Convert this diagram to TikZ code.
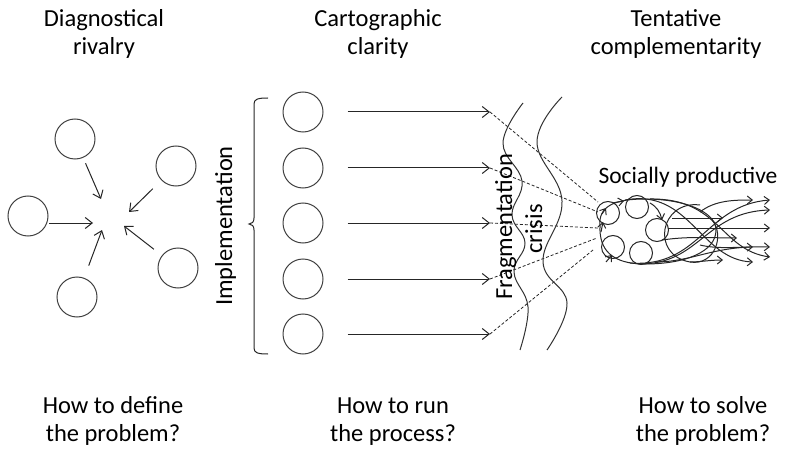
\documentclass[tikz,border=0pt]{standalone}
\usepackage{fontspec}
\setmainfont{Carlito}
\usetikzlibrary{arrows.meta}
\begin{document}
\begin{tikzpicture}[x=1pt,y=-1pt,
  ln/.style={draw=black!85,line width=1pt},
  circ/.style={circle,draw=black!75,line width=1pt,minimum size=40pt,inner sep=0pt},
  sc/.style={circle,draw=black!85,line width=1pt,minimum size=23pt,inner sep=0pt},
  arr/.style={ln,-{Straight Barb[length=7pt,width=11pt]}},
  arrS/.style={ln,-{Straight Barb[length=5pt,width=8pt]}},
  dsh/.style={draw=black!85,line width=0.8pt,densely dashed},
  wave/.style={draw=black!80,line width=1pt},
  lbl/.style={font=\fontsize{24.5}{28}\selectfont,align=center,inner sep=0pt,text=black},
]
\useasboundingbox (0,0) rectangle (797,449);

% headings (base anchor = baseline of the last line)
\node[lbl,anchor=base] (h1) at (104,55) {Diagnostical\\rivalry};
\node[lbl,anchor=base] (h2) at (378,55) {Cartographic\\clarity};
\node[lbl,anchor=base] (h3) at (676,55) {Tentative\\complementarity};
\node[lbl,anchor=base] (q1) at (113,441) {How to define\\the problem?};
\node[lbl,anchor=base] (q2) at (393,441) {How to run\\the process?};
\node[lbl,anchor=base] (q3) at (703,441) {How to solve\\the problem?};

% left cluster
\node[circ] (l1) at (75,139) {};
\node[circ] (l2) at (28,216) {};
\node[circ] (l3) at (77,297) {};
\node[circ] (l4) at (176,166) {};
\node[circ] (l5) at (178,268) {};
\coordinate (e1) at (101,199);
\coordinate (e2) at (93,223);
\coordinate (e3) at (102,230);
\coordinate (e4) at (129,212);
\coordinate (e5) at (124,226);
\draw[arr,shorten <=6pt] (l1) -- (e1);
\draw[arr] (49,223) -- (e2);
\draw[arr,shorten <=13pt] (l3) -- (e3);
\draw[arr,shorten <=12pt] (l4) -- (e4);
\draw[arr,shorten <=10pt] (l5) -- (e5);

% implementation brace
\node[lbl,anchor=base,rotate=90] (impl) at (232,226) {Implementation};
\draw[ln] (268,98) .. controls (258,98) and (254,99) .. (254,104) -- (254,218)
  .. controls (254,222) and (252,224) .. (249,224)
  .. controls (252,224) and (254,226) .. (254,230) -- (254,348)
  .. controls (254,353) and (258,354) .. (268,354);

% middle column
\foreach \i/\y in {1/112,2/168,3/223,4/279,5/334}{
  \node[circ] (m\i) at (303,\y) {};
  \coordinate (a\i) at (490,\y);
  \draw[arr,shorten <=24pt] (m\i) -- (a\i);
}

% dashed lines to the cluster
\coordinate (d1) at (598,202);
\coordinate (d2) at (598,212);
\coordinate (d3) at (598,228);
\coordinate (d4) at (597,238);
\coordinate (d5) at (593,250);
\foreach \i in {1,...,5}{ \draw[dsh] (a\i) -- (d\i); }

% wavy lines
\draw[wave] plot[smooth,tension=0.7] coordinates {(523,103) (503,143) (522,181) (512,215) (525,243) (514,272) (528,307) (520,350)};
\draw[wave] plot[smooth,tension=0.7] coordinates {(562,97) (537,142) (562,201) (543,262) (567,303) (547,350)};
\node[lbl,anchor=base,rotate=90] (frag) at (512,227) {Fragmentation};
\node[lbl,anchor=base,rotate=90] (cris) at (542,229) {crisis};

% socially productive cluster
\node[lbl,anchor=base,font=\fontsize{23.5}{28}\selectfont] (soc) at (688,183) {Socially productive};
\node[sc] (A) at (608,213) {};
\node[sc] (B) at (637,207) {};
\node[sc] (C) at (657,230) {};
\node[sc] (D) at (613,247) {};
\node[sc] (E) at (641,253) {};
% outline
\draw[ln] (600,226) .. controls (598,206) and (615,199) .. (645,199)
  .. controls (685,199) and (716,212) .. (716,230)
  .. controls (716,252) and (685,264) .. (645,264)
  .. controls (612,264) and (599,250) .. (600,226);
% inner crossing loop
\draw[ln] (700,205) .. controls (660,200) and (650,255) .. (690,262)
  .. controls (715,266) and (725,235) .. (712,220);
% circulating arrowheads
\draw[arrS] (601,232) -- (603,222);
\draw[arrS] (612,203) -- (624,201);
\draw[arrS] (650,203) .. controls (657,207) and (660,212) .. (662,220);
\draw[arrS] (606,262) -- (612,255);
\draw[arrS] (602,214) -- (606,208);
% outgoing tangle
\draw[arrS] (625,200) .. controls (690,188) and (700,260) .. (753,262);
\draw[arrS] (630,263) .. controls (700,268) and (705,205) .. (770,200);
\draw[arrS] (650,199) .. controls (720,198) and (720,250) .. (770,257);
\draw[arrS] (668,228) -- (770,228);
\draw[arrS] (672,218) -- (723,218);
\draw[arrS] (662,240) .. controls (690,236) and (710,238) .. (737,238);
\draw[arrS] (640,264) .. controls (700,264) and (705,212) .. (770,210);
\draw[arrS] (700,212) .. controls (715,200) and (735,200) .. (753,200);
\draw[arrS] (655,262) .. controls (690,262) and (710,248) .. (753,247);
\draw[arrS] (690,262) .. controls (700,262) and (710,260) .. (723,260);
\draw[arrS] (700,245) .. controls (720,250) and (745,246) .. (770,247);
\end{tikzpicture}
\end{document}
